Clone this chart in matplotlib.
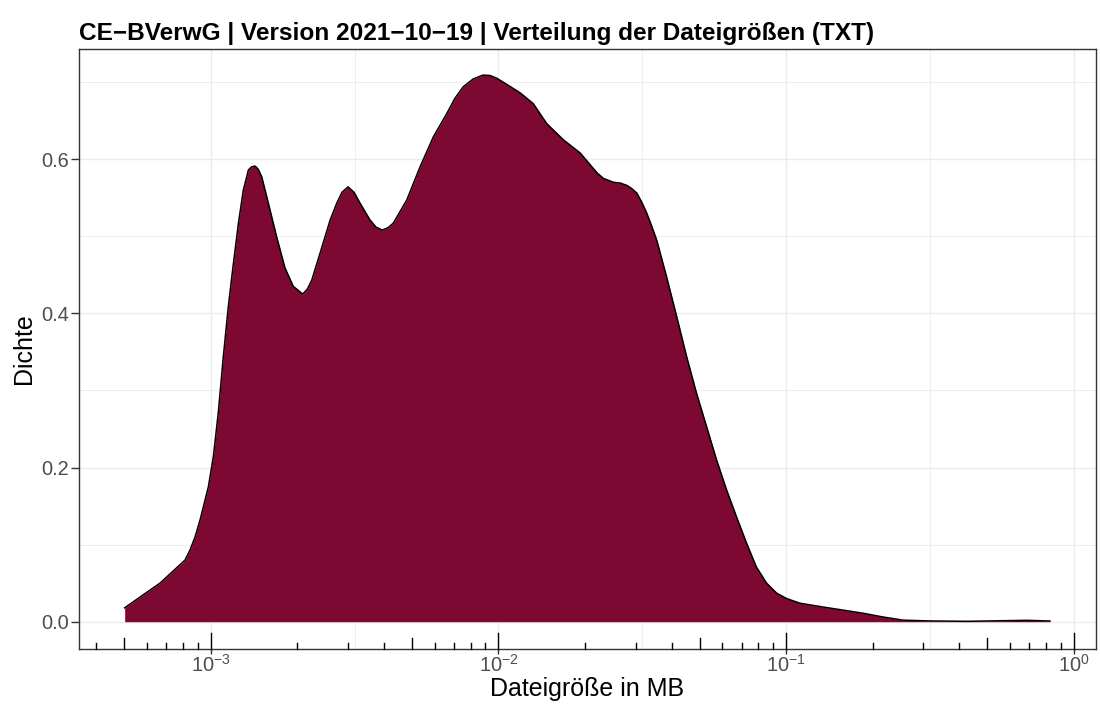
import matplotlib.pyplot as plt
from matplotlib.ticker import NullFormatter

plt.rcParams['font.family'] = ['Liberation Sans', 'DejaVu Sans']

# Dichteschätzung der Dateigrößen
groesse_mb = [5.02e-4, 5.83e-4, 6.66e-4, 7.82e-4, 8.14e-4, 8.47e-4, 8.82e-4,
              9.18e-4, 9.81e-4, 1.021e-3, 1.062e-3, 1.106e-3, 1.151e-3, 1.199e-3,
              1.248e-3, 1.298e-3, 1.352e-3, 1.387e-3, 1.426e-3, 1.462e-3, 1.504e-3,
              1.585e-3, 1.695e-3, 1.811e-3, 1.935e-3, 2.011e-3, 2.087e-3, 2.163e-3,
              2.244e-3, 2.398e-3, 2.600e-3, 2.742e-3, 2.858e-3, 3.000e-3, 3.148e-3,
              3.302e-3, 3.578e-3, 3.75e-3, 3.939e-3, 4.13e-3, 4.311e-3, 4.800e-3,
              5.340e-3, 5.940e-3, 6.610e-3, 7.06e-3, 7.550e-3, 8.17e-3, 8.83e-3,
              9.35e-3, 9.86e-3, 1.079e-2, 1.189e-2, 1.321e-2, 1.472e-2, 1.682e-2,
              1.923e-2, 2.203e-2, 2.317e-2, 2.508e-2, 2.65e-2, 2.791e-2, 2.89e-2,
              3.026e-2, 3.15e-2, 3.277e-2, 3.41e-2, 3.549e-2, 3.843e-2, 4.163e-2,
              4.508e-2, 4.884e-2, 5.290e-2, 5.729e-2, 6.207e-2, 6.723e-2, 7.282e-2,
              7.88e-2, 8.55e-2, 9.27e-2, 0.1004, 0.1117, 0.1346, 0.158, 0.185,
              0.218, 0.255, 0.316, 0.425, 0.568, 0.686, 0.826]
dichte = [0.018, 0.035, 0.050, 0.074, 0.080, 0.093, 0.110,
          0.132, 0.175, 0.214, 0.271, 0.344, 0.409, 0.465,
          0.517, 0.560, 0.586, 0.590, 0.591, 0.587, 0.577,
          0.543, 0.499, 0.459, 0.435, 0.430, 0.425, 0.431,
          0.443, 0.478, 0.521, 0.543, 0.557, 0.564, 0.557,
          0.543, 0.521, 0.512, 0.508, 0.511, 0.517, 0.547,
          0.590, 0.629, 0.659, 0.679, 0.694, 0.704, 0.709,
          0.7085, 0.705, 0.696, 0.686, 0.672, 0.646, 0.625,
          0.608, 0.582, 0.575, 0.570, 0.569, 0.566, 0.5625,
          0.556, 0.544, 0.530, 0.513, 0.495, 0.447, 0.396,
          0.344, 0.296, 0.253, 0.210, 0.171, 0.136, 0.102,
          0.071, 0.050, 0.037, 0.030, 0.024, 0.019, 0.015, 0.011,
          0.006, 0.002, 0.001, 0.0005, 0.0013, 0.0018, 0.0009]

x_ticks = [1e-3, 1e-2, 1e-1, 1]
x_labels = ['$\\mathdefault{10^{-3}}$', '$\\mathdefault{10^{-2}}$',
            '$\\mathdefault{10^{-1}}$', '$\\mathdefault{10^{0}}$']
y_ticks = [0.0, 0.2, 0.4, 0.6]
y_labels = ['0.0', '0.2', '0.4', '0.6']

titel = 'CE\u2212BVerwG | Version 2021\u221210\u221219 | Verteilung der Dateigrößen (TXT)'

fig = plt.figure(figsize=(11, 7.11), dpi=100)
ax = fig.add_axes([79 / 1100, 62 / 711, 1017 / 1100, 600.5 / 711])

ax.fill_between(groesse_mb, dichte, 0, color='#7D0832', lw=0, zorder=2)
ax.plot(groesse_mb, dichte, color='black', lw=1.1, zorder=3,
        solid_joinstyle='round')

ax.set_xscale('log')
ax.set_xlim(10 ** -3.458, 10 ** 0.077)
ax.set_ylim(-0.0354, 0.7435)

ax.set_xticks(x_ticks)
ax.set_xticklabels(x_labels)
ax.set_xticks([10 ** -2.5, 10 ** -1.5, 10 ** -0.5], minor=True)
ax.xaxis.set_minor_formatter(NullFormatter())
ax.set_yticks(y_ticks)
ax.set_yticklabels(y_labels)
ax.set_yticks([0.1, 0.3, 0.5, 0.7], minor=True)

ax.grid(which='major', color='#EBEBEB', lw=1.0, zorder=0)
ax.grid(which='minor', color='#EBEBEB', lw=0.6, zorder=0)
ax.set_axisbelow(True)

ax.tick_params(which='major', color='#333333', width=1.0, labelcolor='#4D4D4D',
               labelsize=14.4)
ax.tick_params(axis='x', which='major', length=3.3, pad=0)
ax.tick_params(axis='y', which='major', length=5.5, pad=1.5)
ax.tick_params(which='minor', length=0)
for s in ax.spines.values():
    s.set_color('#333333')
    s.set_linewidth(1.0)

# Log-Ticks am unteren Rand (wie annotation_logticks)
trans = ax.get_xaxis_transform()
for d in range(-4, 1):
    for m in range(1, 10):
        v = m * 10.0 ** d
        if v < 10 ** -3.458 or v > 10 ** 0.077:
            continue
        h = 0.0266 if m == 1 else (0.0183 if m == 5 else 0.0092)
        ax.plot([v, v], [0, h], color='black', lw=1.0, transform=trans,
                clip_on=False, zorder=4)

ax.set_xlabel('Dateigröße in MB', fontsize=18, labelpad=1)
ax.set_ylabel('Dichte', fontsize=18, labelpad=4)
ax.set_title(titel, loc='left', fontsize=17.6, fontweight='bold', pad=6)

fig.savefig('out.png', dpi=100)
